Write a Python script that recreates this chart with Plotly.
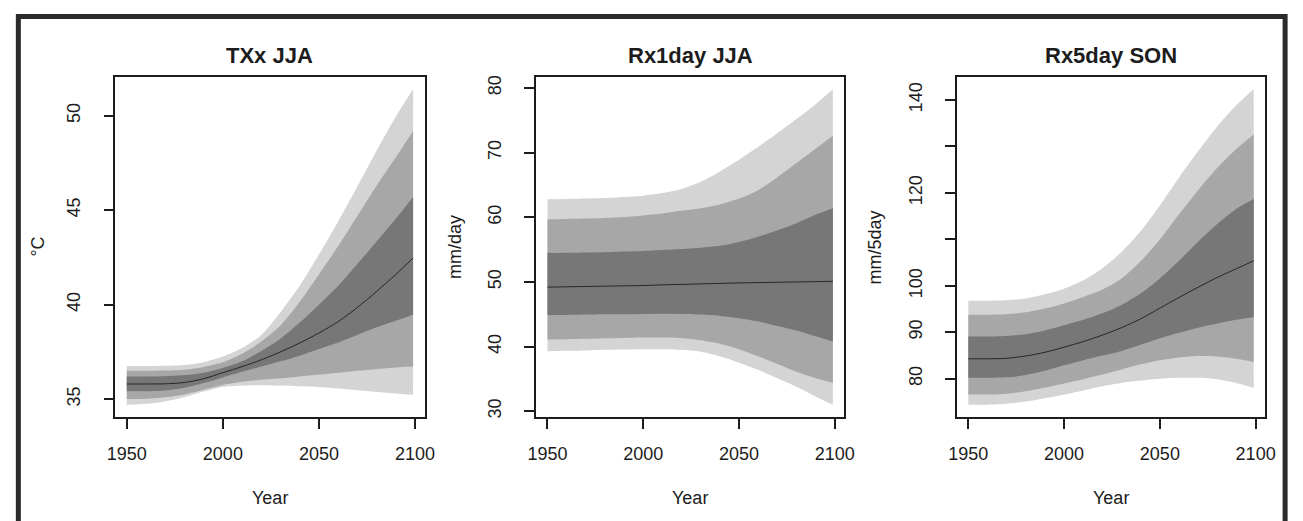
import plotly.graph_objects as go

W, H = 1303, 521

# Sample years (last projection year is 2099)
years = [1950, 1960, 1970, 1980, 1990, 2000, 2010, 2020, 2030, 2040,
         2050, 2060, 2070, 2080, 2090, 2099]

# ---- TXx JJA (°C) ----
txx_light_hi = [36.75, 36.75, 36.76, 36.8, 36.95, 37.25, 37.7, 38.4, 39.6, 41.0,
                42.65, 44.4, 46.25, 48.15, 49.95, 51.4]
txx_mid_hi = [36.5, 36.5, 36.51, 36.55, 36.7, 36.95, 37.4, 38.05, 38.9, 40.15,
              41.6, 43.1, 44.7, 46.3, 47.8, 49.2]
txx_dark_hi = [36.2, 36.2, 36.21, 36.27, 36.4, 36.65, 37.0, 37.55, 38.2, 39.05,
               40.0, 41.0, 42.15, 43.35, 44.55, 45.7]
txx_median = [35.8, 35.8, 35.81, 35.88, 36.08, 36.4, 36.72, 37.08, 37.5, 37.97,
              38.5, 39.1, 39.85, 40.7, 41.6, 42.47]
txx_dark_lo = [35.41, 35.42, 35.46, 35.6, 35.85, 36.15, 36.45, 36.72, 37.0, 37.3,
               37.65, 38.0, 38.4, 38.8, 39.15, 39.47]
txx_mid_lo = [35.0, 35.02, 35.1, 35.25, 35.5, 35.75, 35.92, 36.02, 36.1, 36.2,
              36.3, 36.4, 36.5, 36.6, 36.68, 36.73]
txx_light_lo = [34.7, 34.75, 34.88, 35.1, 35.4, 35.64, 35.72, 35.74, 35.72, 35.68,
                35.63, 35.56, 35.47, 35.38, 35.3, 35.23]

# ---- Rx1day JJA (mm/day) ----
rx1_light_hi = [62.8, 62.85, 62.9, 63.0, 63.15, 63.35, 63.75, 64.4, 65.5, 67.1,
                68.9, 70.9, 73.0, 75.2, 77.5, 79.8]
rx1_mid_hi = [59.7, 59.75, 59.8, 59.9, 60.05, 60.3, 60.6, 61.0, 61.4, 62.0,
              62.9, 64.2, 66.2, 68.4, 70.6, 72.6]
rx1_dark_hi = [54.5, 54.5, 54.55, 54.6, 54.7, 54.8, 54.95, 55.1, 55.3, 55.6,
               56.2, 57.0, 58.0, 59.1, 60.4, 61.4]
rx1_median = [49.2, 49.25, 49.3, 49.35, 49.4, 49.45, 49.55, 49.62, 49.7, 49.78,
              49.85, 49.9, 49.95, 50.0, 50.05, 50.1]
rx1_dark_lo = [44.9, 44.9, 44.95, 45.0, 45.0, 45.05, 45.1, 45.05, 44.95, 44.75,
               44.4, 43.9, 43.2, 42.5, 41.6, 40.8]
rx1_mid_lo = [41.1, 41.15, 41.2, 41.3, 41.35, 41.4, 41.4, 41.3, 41.0, 40.45,
              39.6, 38.5, 37.3, 36.1, 35.1, 34.4]
rx1_light_lo = [39.3, 39.35, 39.4, 39.5, 39.55, 39.6, 39.6, 39.5, 39.2, 38.5,
                37.5, 36.4, 35.1, 33.8, 32.3, 31.0]

# ---- Rx5day SON (mm/5day) ----
rx5_light_hi = [96.8, 96.8, 96.9, 97.3, 98.2, 99.4, 101.2, 103.8, 107.3, 111.8,
                117.3, 123.3, 129.0, 134.3, 138.9, 142.3]
rx5_mid_hi = [93.8, 93.8, 93.9, 94.3, 95.1, 96.2, 97.6, 99.2, 101.6, 105.3,
              110.0, 115.4, 120.6, 125.4, 129.5, 132.6]
rx5_dark_hi = [89.1, 89.1, 89.2, 89.6, 90.4, 91.5, 92.7, 94.1, 95.9, 98.4,
               101.6, 105.4, 109.5, 113.3, 116.6, 118.7]
rx5_median = [84.3, 84.3, 84.4, 84.9, 85.7, 86.8, 88.0, 89.4, 91.0, 92.9,
              95.2, 97.5, 99.7, 101.8, 103.7, 105.4]
rx5_dark_lo = [80.2, 80.2, 80.3, 80.8, 81.7, 82.9, 84.0, 85.0, 86.0, 87.3,
               88.7, 89.9, 91.0, 91.9, 92.7, 93.3]
rx5_mid_lo = [76.6, 76.6, 76.8, 77.3, 78.1, 79.0, 79.9, 80.9, 82.0, 83.1,
              84.0, 84.6, 84.9, 84.8, 84.3, 83.6]
rx5_light_lo = [74.4, 74.4, 74.6, 75.1, 75.8, 76.6, 77.5, 78.4, 79.1, 79.6,
                80.0, 80.2, 80.2, 79.9, 79.1, 78.0]

# Axis text
titles = ["TXx JJA", "Rx1day JJA", "Rx5day SON"]
y_titles = ["°C", "mm/day", "mm/5day"]
x_title = "Year"
x_tickvals = [1950, 2000, 2050, 2100]
txx_ticks = [35, 40, 45, 50]
rx1_ticks = [30, 40, 50, 60, 70, 80]
rx5_ticks = [80, 90, 100, 110, 120, 130, 140]
rx5_ticklabels = ["80", "90", "100", "", "120", "", "140"]

LIGHT = "#d4d4d4"
MID = "#a7a7a7"
DARK = "#777777"
INK = "#1c1c1c"
FONT = "Liberation Sans, Arial, Helvetica, sans-serif"

panels = [
    dict(bands=[(txx_light_hi, txx_light_lo, LIGHT), (txx_mid_hi, txx_mid_lo, MID),
                (txx_dark_hi, txx_dark_lo, DARK)], median=txx_median,
         ticks=txx_ticks, ticktext=[str(t) for t in txx_ticks],
         px=(108, 422), ylab_x=30),
    dict(bands=[(rx1_light_hi, rx1_light_lo, LIGHT), (rx1_mid_hi, rx1_mid_lo, MID),
                (rx1_dark_hi, rx1_dark_lo, DARK)], median=rx1_median,
         ticks=rx1_ticks, ticktext=[str(t) for t in rx1_ticks],
         px=(535.3, 848.3), ylab_x=453),
    dict(bands=[(rx5_light_hi, rx5_light_lo, LIGHT), (rx5_mid_hi, rx5_mid_lo, MID),
                (rx5_dark_hi, rx5_dark_lo, DARK)], median=rx5_median,
         ticks=rx5_ticks, ticktext=rx5_ticklabels,
         px=(962.7, 1275.7), ylab_x=880),
]

# plot box vertical extent in pixels (from top)
BOX_TOP, BOX_BOT = 76, 418
y_dom = [(H - BOX_BOT) / H, (H - BOX_TOP) / H]


def padded(lo, hi, frac=0.04):
    d = hi - lo
    return [lo - frac * d, hi + frac * d]


fig = go.Figure()
layout = dict(
    width=W, height=H, margin=dict(l=0, r=0, t=0, b=0),
    paper_bgcolor="white", plot_bgcolor="white", showlegend=False,
    font=dict(family=FONT, color=INK),
)
annotations = []

for i, p in enumerate(panels):
    n = "" if i == 0 else str(i + 1)
    xref, yref = "x" + n, "y" + n
    for hi, lo, col in p["bands"]:
        fig.add_trace(go.Scatter(x=years, y=hi, mode="lines",
                                 line=dict(width=0, color=col, shape="spline", smoothing=0.8),
                                 hoverinfo="skip", xaxis=xref, yaxis=yref))
        fig.add_trace(go.Scatter(x=years, y=lo, mode="lines", fill="tonexty",
                                 fillcolor=col,
                                 line=dict(width=0, color=col, shape="spline", smoothing=0.8),
                                 hoverinfo="skip", xaxis=xref, yaxis=yref))
    fig.add_trace(go.Scatter(x=years, y=p["median"], mode="lines",
                             line=dict(width=1, color="#262626", shape="spline", smoothing=0.8),
                             xaxis=xref, yaxis=yref))

    all_vals = [v for hi, lo, _ in p["bands"] for v in hi + lo]
    yr = padded(min(all_vals), max(all_vals))
    xr = padded(min(years), max(years))
    x0, x1 = p["px"]
    axis_common = dict(showgrid=False, zeroline=False, showline=True, mirror=True,
                       linecolor=INK, linewidth=1.5, ticks="outside", ticklen=10,
                       tickwidth=1.5, tickcolor=INK,
                       tickfont=dict(family=FONT, size=18, color=INK))
    layout["xaxis" + n] = dict(axis_common, domain=[x0 / W, x1 / W], range=xr,
                               tickvals=x_tickvals, anchor=yref,
                               ticklabelstandoff=9)
    layout["yaxis" + n] = dict(axis_common, domain=y_dom, range=yr,
                               tickvals=p["ticks"], ticktext=p["ticktext"],
                               tickangle=-90, anchor=xref, ticklabelstandoff=16)
    cx = (x0 + x1) / 2 / W
    annotations.append(dict(text="<b>%s</b>" % titles[i], x=cx, y=(H - 55) / H,
                            xref="paper", yref="paper", showarrow=False,
                            xanchor="center", yanchor="middle",
                            font=dict(family=FONT, size=22, color=INK)))
    annotations.append(dict(text=x_title, x=cx, y=(H - 499) / H,
                            xref="paper", yref="paper", showarrow=False,
                            xanchor="center", yanchor="middle",
                            font=dict(family=FONT, size=18, color=INK)))
    annotations.append(dict(text=y_titles[i], x=p["ylab_x"] / W,
                            y=(H - (BOX_TOP + BOX_BOT) / 2) / H,
                            xref="paper", yref="paper", showarrow=False,
                            textangle=-90, xanchor="center", yanchor="middle",
                            font=dict(family=FONT, size=18, color=INK)))

layout["annotations"] = annotations
# outer frame around the whole figure
layout["shapes"] = [dict(type="rect", xref="paper", yref="paper",
                         x0=9.5 / W, x1=1296 / W, y0=-0.05, y1=(H - 15.5) / H,
                         line=dict(color="#2b2b2b", width=5), fillcolor="rgba(0,0,0,0)")]
fig.update_layout(**layout)

fig.write_html("out.html")
